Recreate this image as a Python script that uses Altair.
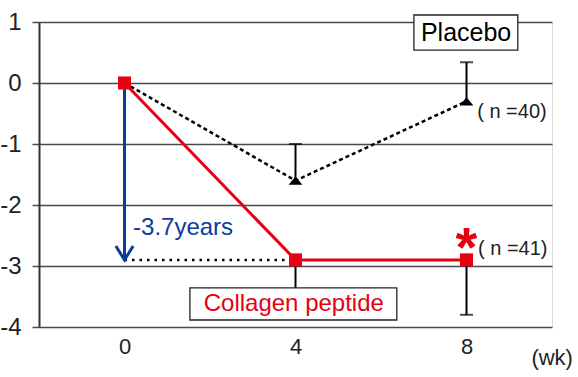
import altair as alt
import pandas as pd

# ---- data ----
weeks = [0, 4, 8]
collagen_mean = [0.0, -2.9, -2.9]
placebo_mean = [0.0, -1.6, -0.3]
err_weeks = [4, 8]
collagen_err_end = [-3.5, -3.8]
placebo_err_end = [-1.0, 0.34]
x_ticks = [0, 4, 8]
y_ticks = [-4, -3, -2, -1, 0, 1]

RED = "#e60012"
BLUE = "#0b3c9b"
FONT = "Liberation Sans"

main = pd.DataFrame({"week": weeks, "collagen": collagen_mean, "placebo": placebo_mean})
err = pd.DataFrame({
    "week": err_weeks,
    "c_mean": collagen_mean[1:], "c_end": collagen_err_end,
    "p_mean": placebo_mean[1:], "p_end": placebo_err_end,
})

xs = alt.Scale(domain=[-2, 10], nice=False, zero=False)
ys = alt.Scale(domain=[-4, 1], nice=False, zero=False)
xax = alt.Axis(values=x_ticks, title=None, grid=False, domain=False, ticks=False,
               labelFontSize=22, labelPadding=9, labelFont=FONT, labelColor="#222")
yax = alt.Axis(values=y_ticks, title=None, grid=True, gridColor="#4a4a4a", gridWidth=1.5,
               domain=True, domainColor="#333", domainWidth=2, tickColor="#4a4a4a",
               tickSize=7, tickWidth=1.5, labelFontSize=24, labelPadding=11,
               labelFont=FONT, labelColor="#222", labelExpr="'' + datum.value")


def X(field):
    return alt.X(field, type="quantitative", scale=xs, axis=xax)


def Y(field):
    return alt.Y(field, type="quantitative", scale=ys, axis=yax)


base = alt.Chart(main)

# dotted reference line at the collagen week-4 level
ref = pd.DataFrame({"week": [weeks[0], weeks[1]], "v": [collagen_mean[1], collagen_mean[1]]})
ref_line = alt.Chart(ref).mark_line(color="black", strokeWidth=2.5, strokeDash=[2.5, 5]).encode(
    x=X("week"), y=Y("v"))

placebo_line = base.mark_line(color="black", strokeWidth=2.5, strokeDash=[4, 3]).encode(
    x=X("week"), y=Y("placebo"))

eb = alt.Chart(err)
c_rule = eb.mark_rule(color="black", strokeWidth=2).encode(x=X("week"), y=Y("c_mean"), y2="c_end")
c_cap = eb.mark_tick(color="black", orient="horizontal", size=13, thickness=2).encode(x=X("week"), y=Y("c_end"))
p_rule = eb.mark_rule(color="black", strokeWidth=2).encode(x=X("week"), y=Y("p_mean"), y2="p_end")
p_cap = eb.mark_tick(color="black", orient="horizontal", size=13, thickness=2).encode(x=X("week"), y=Y("p_end"))

# blue arrow
arrow_df = pd.DataFrame({"week": [0], "top": [-0.1], "tip": [collagen_mean[1]]})
arrow_shaft = alt.Chart(arrow_df).mark_rule(color=BLUE, strokeWidth=3).encode(
    x=X("week"), y=Y("top"), y2="tip")
arrow_head = alt.Chart(arrow_df).mark_point(
    shape="M-1,-1.6L0,0L1,-1.6", filled=False, color=BLUE, strokeWidth=3, size=300, opacity=1
).encode(x=X("week"), y=Y("tip"))

collagen_line = base.mark_line(color=RED, strokeWidth=3).encode(x=X("week"), y=Y("collagen"))
collagen_pts = base.mark_point(shape="square", filled=True, color=RED, size=170, opacity=1).encode(
    x=X("week"), y=Y("collagen"))
placebo_pts = alt.Chart(main.iloc[1:]).mark_point(
    shape="M-1,0.6L0,-0.6L1,0.6Z", filled=True, color="black", size=190, opacity=1
).encode(x=X("week"), y=Y("placebo"))

# label boxes
boxes = pd.DataFrame({
    "x1": [6.77, 1.53], "x2": [9.2, 6.37],
    "y1": [1.115, -3.36], "y2": [0.54, -3.885],
})
box_layer = alt.Chart(boxes).mark_rect(fill="white", stroke="#222", strokeWidth=1.3, clip=False).encode(
    x=X("x1"), x2="x2", y=Y("y1"), y2="y2")

def text_layer(df, **kw):
    return alt.Chart(df).mark_text(font=FONT, clip=False, **kw).encode(x=X("x"), y=Y("y"), text="t:N")

t_placebo = text_layer(pd.DataFrame({"x": [7.99], "y": [0.82], "t": ["Placebo"]}),
                       fontSize=25, color="black", align="center", baseline="middle")
t_collagen = text_layer(pd.DataFrame({"x": [3.96], "y": [-3.62], "t": ["Collagen peptide"]}),
                        fontSize=24, color=RED, align="center", baseline="middle")
t_n = text_layer(pd.DataFrame({"x": [8.25, 8.27], "y": [-0.47, -2.72], "t": ["( n =40)", "( n =41)"]}),
                 fontSize=20, color="#222", align="left", baseline="middle")
t_years = text_layer(pd.DataFrame({"x": [0.2], "y": [-2.38], "t": ["-3.7years"]}),
                     fontSize=24, color=BLUE, align="left", baseline="middle")
t_star = text_layer(pd.DataFrame({"x": [8.0], "y": [-2.52], "t": ["*"]}),
                    fontSize=56, color=RED, align="center", baseline="middle", dy=12, fontWeight="bold")
t_wk = text_layer(pd.DataFrame({"x": [10.49], "y": [-4.51], "t": ["(wk)"]}),
                  fontSize=22, color="#222", align="right", baseline="middle")

chart = alt.layer(
    ref_line, placebo_line, c_rule, c_cap, p_rule, p_cap,
    arrow_shaft, arrow_head, collagen_line, collagen_pts, placebo_pts,
    box_layer, t_placebo, t_collagen, t_n, t_years, t_star, t_wk,
).properties(
    width=513, height=305,
    autosize=alt.AutoSizeParams(type="none"),
    padding={"left": 39, "top": 22, "right": 26, "bottom": 50},
).configure_view(stroke=None).configure(background="white")

chart.save("out.html", embed_options={"renderer": "svg", "actions": False})
